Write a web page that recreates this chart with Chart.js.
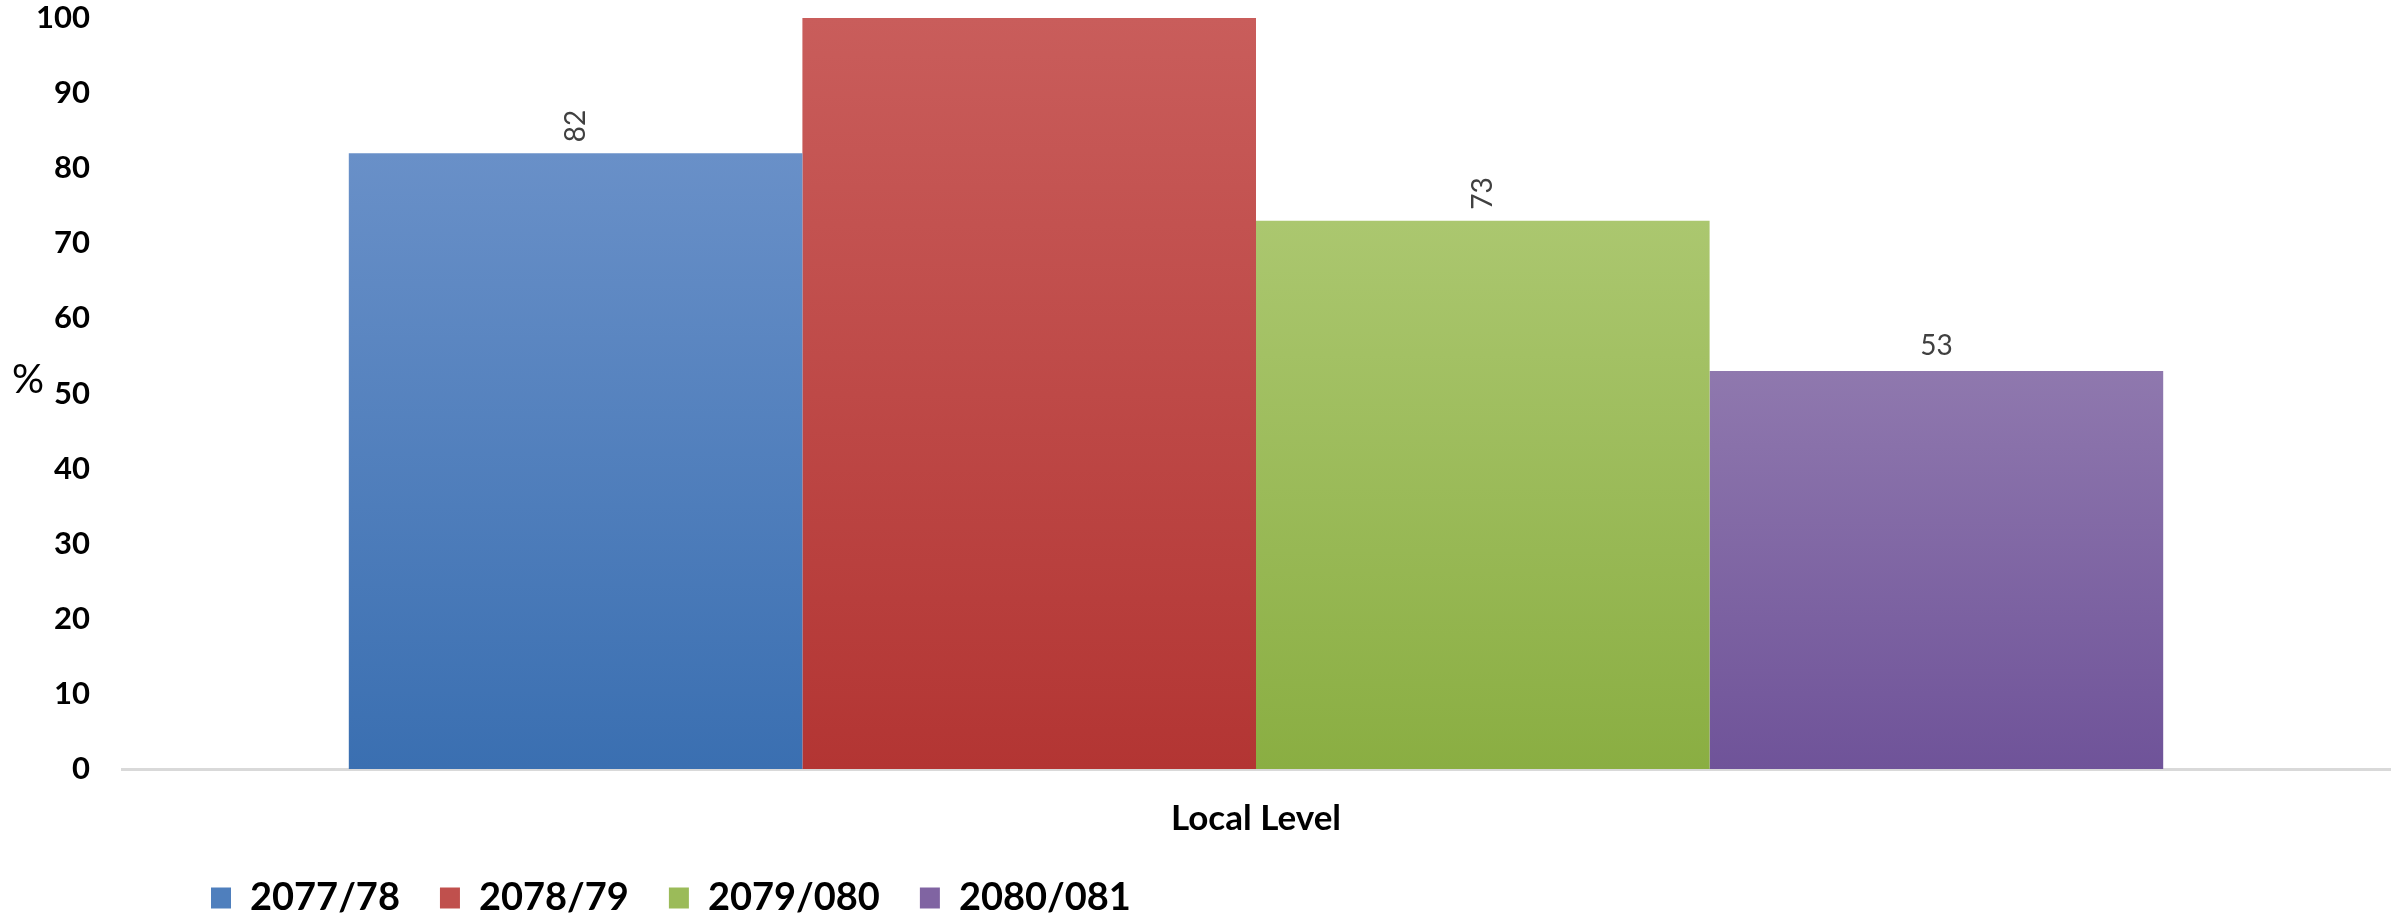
<!DOCTYPE html>
<html><head><meta charset="utf-8">
<script src="https://cdn.jsdelivr.net/npm/chart.js@4"></script>
<style>html,body{margin:0;padding:0;background:#fff;}canvas{display:block;}</style>
</head><body>
<canvas id="c" width="2402" height="915"></canvas>
<script>
const categories = ['Local Level'];
const seriesNames = ['2077/78', '2078/79', '2079/080', '2080/081'];
const values2077 = [82];
const values2078 = [100];
const values2079 = [73];
const values2080 = [53];
const yMin = 0, yMax = 100, yStep = 10;
const yAxisTitle = '%';

const palette = [
  {top: '#6990c8', bottom: '#3a6fb1', mid: '#4f7fbd'},
  {top: '#c95d5b', bottom: '#b33533', mid: '#c0504d'},
  {top: '#abc76f', bottom: '#8aae42', mid: '#9bbb59'},
  {top: '#8f78ae', bottom: '#6f5399', mid: '#8064a2'}
];
const labelRotation = [-90, -90, -90, 0];

function gradFill(p) {
  return function(ctx) {
    const chart = ctx.chart;
    if (!chart.chartArea || ctx.raw === undefined || ctx.type !== 'data') return p.mid;
    const ys = chart.scales.y;
    const top = ys.getPixelForValue(ctx.raw);
    const bottom = ys.getPixelForValue(0);
    if (!isFinite(top) || !isFinite(bottom) || top === bottom) return p.mid;
    const g = chart.ctx.createLinearGradient(0, top, 0, bottom);
    g.addColorStop(0, p.top);
    g.addColorStop(1, p.bottom);
    return g;
  };
}

const seriesValues = [values2077, values2078, values2079, values2080];
const datasets = seriesNames.map((name, i) => ({
  label: name,
  data: seriesValues[i],
  backgroundColor: gradFill(palette[i]),
  borderWidth: 0,
  categoryPercentage: 0.8,
  barPercentage: 1.0
}));

const FONT = 'Lato, "Open Sans", sans-serif';

const barLabels = {
  id: 'barLabels',
  afterDatasetsDraw(chart) {
    const ctx = chart.ctx;
    ctx.save();
    ctx.fillStyle = '#404040';
    ctx.font = '28px ' + FONT;
    ctx.textAlign = 'center';
    ctx.textBaseline = 'middle';
    chart.data.datasets.forEach((ds, i) => {
      const meta = chart.getDatasetMeta(i);
      meta.data.forEach((el, j) => {
        const v = ds.data[j];
        const txt = String(v);
        const w = ctx.measureText(txt).width;
        const rot = labelRotation[i];
        const half = rot ? w / 2 : 14;
        const y = el.y - 11 - half;
        if (y - half < 0) return;
        ctx.save();
        ctx.translate(el.x, y);
        ctx.rotate(rot * Math.PI / 180);
        ctx.fillText(txt, 0, 0);
        ctx.restore();
      });
    });
    ctx.restore();
  }
};

const yTitle = {
  id: 'yTitle',
  afterDraw(chart) {
    const ctx = chart.ctx;
    ctx.save();
    ctx.fillStyle = '#000';
    ctx.font = '40px ' + FONT;
    ctx.textAlign = 'center';
    ctx.textBaseline = 'middle';
    ctx.fillText(yAxisTitle, 28, 380);
    ctx.restore();
  }
};

const legendShift = {
  id: 'legendShift',
  afterLayout(chart) {
    if (chart.legend) { chart.legend.left = 171; }
  }
};

new Chart(document.getElementById('c'), {
  type: 'bar',
  data: {labels: categories, datasets},
  plugins: [barLabels, yTitle, legendShift],
  options: {
    responsive: false,
    animation: false,
    devicePixelRatio: 1,
    layout: {padding: {top: 18, right: 12, left: 0, bottom: 0}},
    plugins: {
      legend: {
        position: 'bottom',
        align: 'start',
        maxHeight: 76,
        labels: {
          font: {family: FONT, size: 38, weight: 'bold'},
          color: '#000',
          boxWidth: 20,
          boxHeight: 21,
          padding: 40,
          generateLabels(chart) {
            return chart.data.datasets.map((ds, i) => ({
              text: ds.label,
              fillStyle: palette[i].mid,
              strokeStyle: palette[i].mid,
              lineWidth: 0,
              hidden: false,
              datasetIndex: i
            }));
          }
        }
      },
      tooltip: {enabled: false}
    },
    scales: {
      x: {
        grid: {display: false, drawTicks: false},
        border: {display: true, color: '#d9d9d9', width: 3},
        ticks: {font: {family: FONT, size: 35, weight: 'bold'}, color: '#000', padding: 29},
        afterFit(s) { s.height = 70; }
      },
      y: {
        min: yMin, max: yMax,
        grid: {display: false, drawTicks: true, tickLength: 32},
        border: {display: false},
        ticks: {stepSize: yStep, font: {family: FONT, size: 31, weight: 'bold', lineHeight: 1.0}, color: '#000', padding: 0},
        afterFit(s) { s.width = 122; }
      }
    }
  }
});
</script>
</body></html>
